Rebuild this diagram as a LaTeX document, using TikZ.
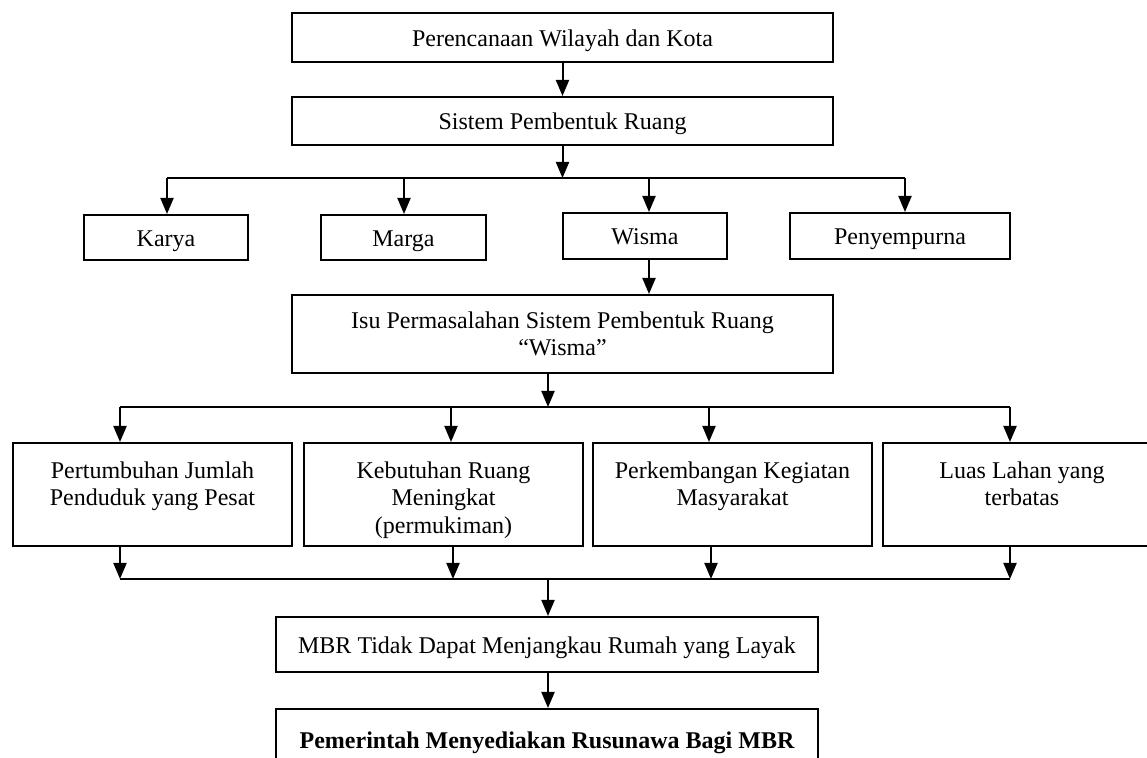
\documentclass[tikz,border=0pt]{standalone}
\usepackage{fontspec}
\setmainfont{Liberation Serif}
\usetikzlibrary{arrows.meta}
\begin{document}
\begin{tikzpicture}[x=0.5pt,y=-0.5pt,
  font=\fontsize{12}{13.8}\selectfont,
  box/.style={draw, line width=1pt, inner sep=0pt, align=flush center},
  one/.style={box, text height=11pt, text depth=2.2pt},
  txt/.style={inner sep=0pt, align=flush center, text width=135pt},
  arr/.style={-{Triangle[length=8pt,width=6.5pt]}, line width=1pt},
  ln/.style={line width=1pt}]
\clip (0,0) rectangle (1147,758);
% top boxes
\node[one, minimum width=270.5pt, minimum height=24.5pt] (b1) at (562.5,37.5) {Perencanaan Wilayah dan Kota};
\node[one, minimum width=270.5pt, minimum height=24pt] (b2) at (562.5,121) {Sistem Pembentuk Ruang};
% second row
\node[one, minimum width=82pt, minimum height=22.5pt] (karya) at (166,237.5) {Karya};
\node[one, minimum width=82.5pt, minimum height=22.5pt] (marga) at (403.5,237.5) {Marga};
\node[one, minimum width=82pt, minimum height=23pt] (wisma) at (645,236) {Wisma};
\node[one, minimum width=110pt, minimum height=23pt] (peny) at (900,236) {Penyempurna};
% isu
\node[box, minimum width=270.5pt, minimum height=39pt] (isu) at (562.5,334) {Isu Permasalahan Sistem Pembentuk Ruang\\``Wisma''};
% third row boxes
\node[box, minimum width=139.5pt, minimum height=51.5pt] (pa) at (152.5,494.5) {};
\node[box, minimum width=139.5pt, minimum height=51.5pt] (pb) at (443.5,494.5) {};
\node[box, minimum width=139.5pt, minimum height=51.5pt] (pc) at (732.5,494.5) {};
\node[box, minimum width=139pt, minimum height=51.5pt] (pd) at (1022,494.5) {};
\node[txt, anchor=north] (ta) at (152.5,461) {Pertumbuhan Jumlah\\Penduduk yang Pesat};
\node[txt, anchor=north] (tb) at (443.5,461) {Kebutuhan Ruang\\Meningkat\\(permukiman)};
\node[txt, anchor=north] (tc) at (732.5,461) {Perkembangan Kegiatan\\Masyarakat};
\node[txt, anchor=north] (td) at (1022,461) {Luas Lahan yang\\terbatas};
% bottom boxes
\node[one, minimum width=271pt, minimum height=27.5pt] (mbr) at (547,644.5) {MBR Tidak Dapat Menjangkau Rumah yang Layak};
\node[one, minimum width=271pt, minimum height=31pt, font=\fontsize{12}{13.8}\selectfont\bfseries] (pem) at (547,740) {Pemerintah Menyediakan Rusunawa Bagi MBR};
% junction coordinates
\coordinate (j1) at (562.5,178);
\coordinate (j2) at (548,407);
\coordinate (j3) at (548,579);
\coordinate (wx) at (649,0);
\coordinate (dA) at (120,407);
\coordinate (dB) at (451,407);
\coordinate (dC) at (709,407);
\coordinate (dD) at (1010,407);
\coordinate (uA) at (120,579);
\coordinate (uB) at (453,579);
\coordinate (uC) at (711,579);
\coordinate (uD) at (1010,579);
\coordinate (kx) at (167,0);
\coordinate (mx) at (404,0);
\coordinate (px) at (905,0);
% connectors
\draw[arr] (b1) -- (b2);
\draw[arr] (b2.south) -- (j1);
\draw[ln] (kx |- j1) -- (px |- j1);
\draw[arr] (kx |- j1) -- (kx |- karya.north);
\draw[arr] (mx |- j1) -- (mx |- marga.north);
\draw[arr] (wx |- j1) -- (wx |- wisma.north);
\draw[arr] (px |- j1) -- (px |- peny.north);
\draw[arr] (wx |- wisma.south) -- (wx |- isu.north);
\draw[arr] (j2 |- isu.south) -- (j2);
\draw[ln] (dA) -- (dD);
\draw[arr] (dA) -- (dA |- pa.north);
\draw[arr] (dB) -- (dB |- pb.north);
\draw[arr] (dC) -- (dC |- pc.north);
\draw[arr] (dD) -- (dD |- pd.north);
\draw[arr] (uA |- pa.south) -- (uA);
\draw[arr] (uB |- pb.south) -- (uB);
\draw[arr] (uC |- pc.south) -- (uC);
\draw[arr] (uD |- pd.south) -- (uD);
\draw[ln] (uA) -- (uD);
\draw[arr] (j3) -- (j3 |- mbr.north);
\draw[arr] (mbr.south -| j3) -- (pem.north -| j3);
\end{tikzpicture}
\end{document}
